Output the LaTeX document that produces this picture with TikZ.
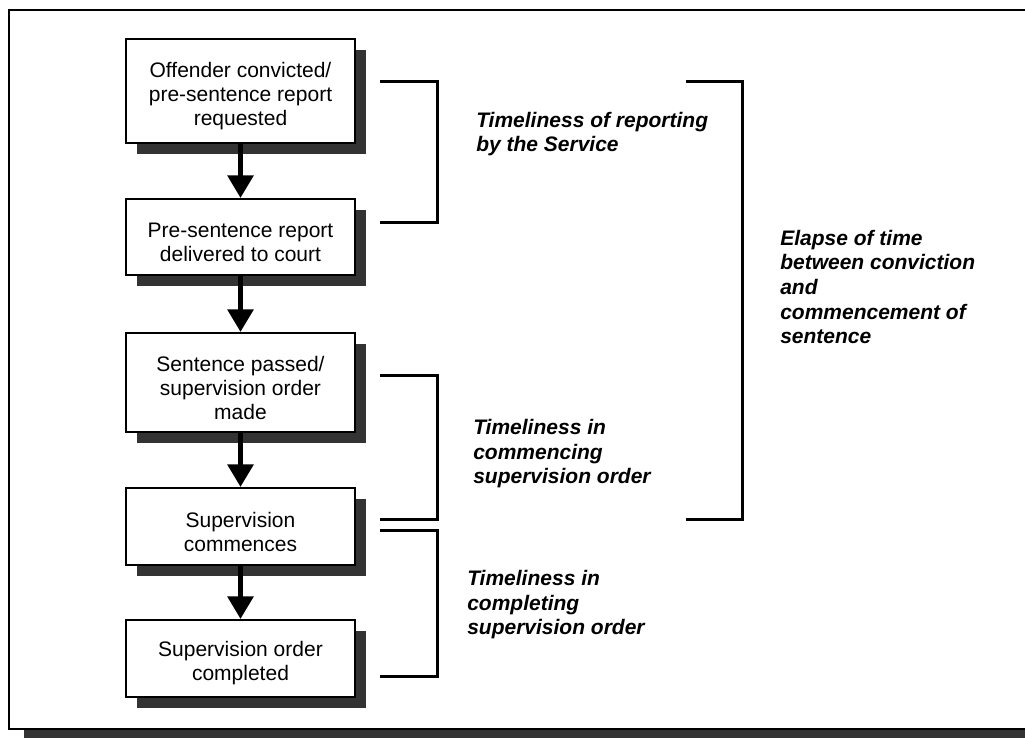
\documentclass[tikz,border=0pt]{standalone}
\usepackage{fontspec}
\setmainfont{Liberation Sans}
\usepackage{tikz}
\usetikzlibrary{arrows.meta,shadows}
\definecolor{shadowgray}{HTML}{333333}
\newcommand{\lowtext}{\rule{0pt}{19pt}}

\begin{document}
\begin{tikzpicture}[x=0.75pt,y=-0.75pt]
\useasboundingbox (0,0) rectangle (1025,738);
\clip (0,0) rectangle (1025,738);

% frame with its shadow
\fill[shadowgray] (24,20) rectangle (1045,745);
\filldraw[fill=white, draw=black, line width=1.5pt] (9,10) rectangle (1030,729);

\begin{scope}[every node/.style={draw, fill=white, line width=1.5pt, align=center, minimum width=172pt, inner sep=2pt, font=\fontsize{15.75}{18}\selectfont, drop shadow={shadow xshift=8.25pt, shadow yshift=-8.25pt, fill=shadowgray, opacity=1}}]
\node[minimum height=78pt] (0) at (240.5,91) {\lowtext Offender convicted/\\pre-sentence report\\requested};
\node[minimum height=57pt] (1) at (240.5,237) {\lowtext Pre-sentence report\\delivered to court};
\node[minimum height=74.25pt] (2) at (240.5,382.5) {\lowtext Sentence passed/\\supervision order\\made};
\node[minimum height=57.75pt] (3) at (240.5,526.5) {\lowtext Supervision\\commences};
\node[minimum height=57.75pt] (4) at (240.5,658.5) {\lowtext Supervision order\\completed};
\end{scope}

\begin{scope}[every node/.style={anchor=west, align=left, inner sep=0pt, font=\fontsize{15.75}{18.4}\selectfont\bfseries\itshape}]
\node (5) at (476,134) {Timeliness of reporting\\by the Service};
\node (6) at (473,454) {Timeliness in\\commencing\\supervision order};
\node (7) at (467,605) {Timeliness in\\completing\\supervision order};
\node (8) at (780,287) {Elapse of time\\between conviction\\and\\commencement of\\sentence};
\end{scope}

\draw[line width=3.75pt, -{Triangle[width=19pt,length=17pt]}] (0) -- (1);
\draw[line width=3.75pt, -{Triangle[width=19pt,length=17pt]}] (1) -- (2);
\draw[line width=3.75pt, -{Triangle[width=19pt,length=17pt]}] (2) -- (3);
\draw[line width=3.75pt, -{Triangle[width=19pt,length=17pt]}] (3) -- (4);

\draw[line width=2.25pt] (380,82) -| (437,223) -- (380,223);
\draw[line width=2.25pt] (380,375) -| (437,519) -- (380,519);
\draw[line width=2.25pt] (380,530) -| (437,676) -- (380,676);
\draw[line width=2.25pt] (686,82) -| (742,519) -- (686,519);

\end{tikzpicture}
\end{document}
